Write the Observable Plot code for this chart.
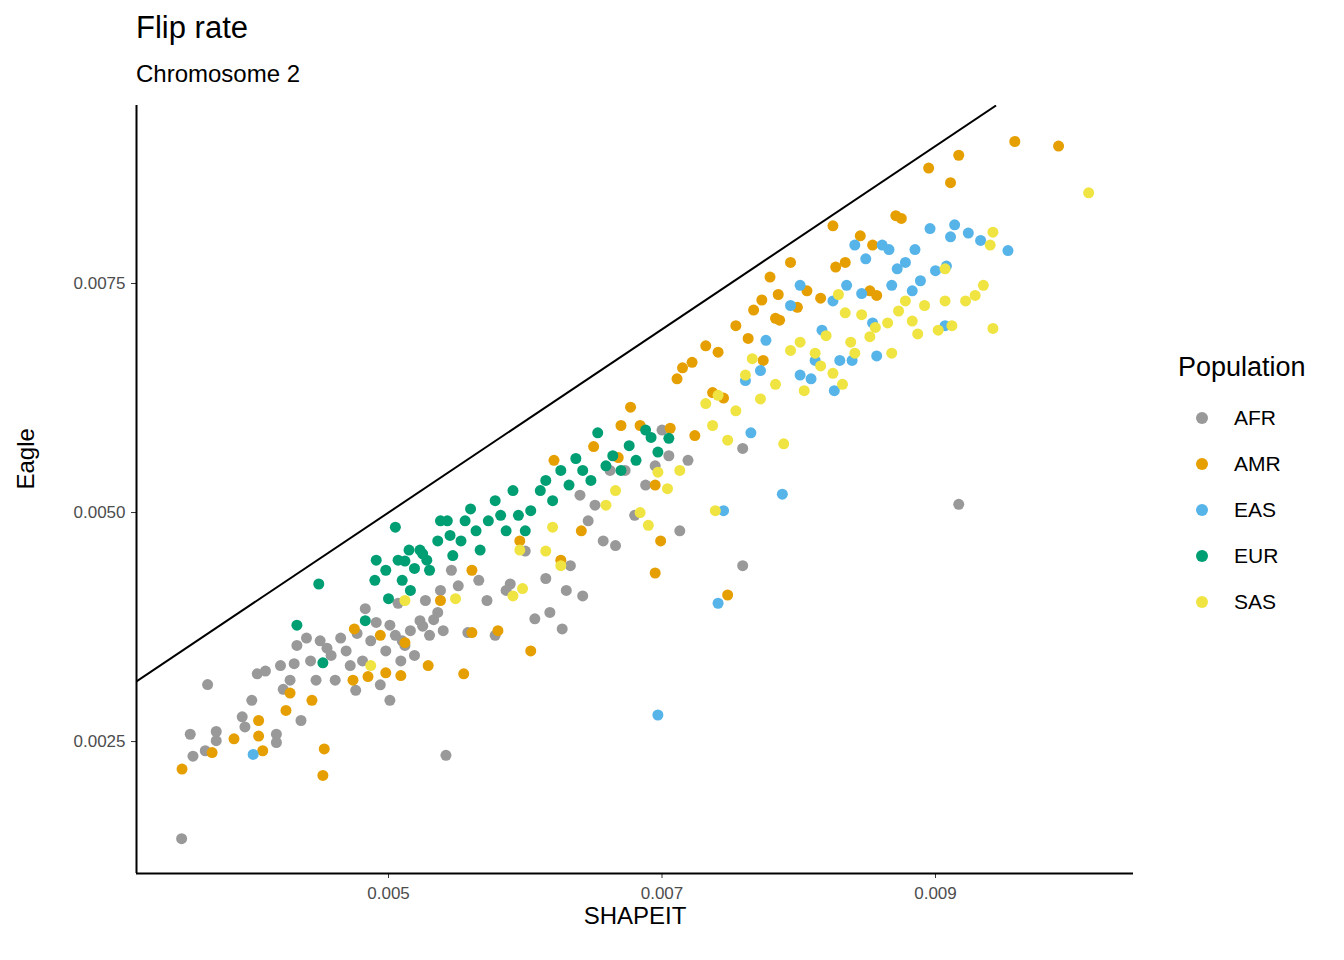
<!DOCTYPE html>
<html><head><meta charset="utf-8">
<script src="https://cdn.jsdelivr.net/npm/d3@7"></script>
<script src="https://cdn.jsdelivr.net/npm/@observablehq/plot@0.6"></script>
<style>
body{margin:0;font-family:"Liberation Sans",Arial,sans-serif;background:#fff}
#wrap{position:relative;width:1344px;height:960px}
.t{position:absolute;color:#000;white-space:nowrap}
.leg{position:absolute;left:1178px;top:352px;font-size:27px}
.row{display:flex;align-items:center;height:46px;font-size:21px}
.dot{width:12px;height:12px;border-radius:50%;margin:0 26px 0 18px}
</style></head><body>
<div id="wrap">
<div class="t" style="left:136px;top:10px;font-size:31px">Flip rate</div>
<div class="t" style="left:136px;top:60px;font-size:24px">Chromosome 2</div>
<div id="chart"></div>
<div class="leg"><div style="margin-bottom:12px">Population</div><div id="rows"></div></div>
</div>
<script>
const populations=["AFR","AMR","EAS","EUR","SAS"];
const colors=["#999999","#E69F00","#56B4E9","#009E73","#F0E442"];
const xDomain=[0.003157,0.010448];
const yDomain=[0.00106,0.009443];
const xTicks=[0.005,0.007,0.009];
const yTicks=[0.0025,0.005,0.0075];
const yTickLabels=["0.0025","0.0050","0.0075"];
const AFR=[[0.003487,0.00144],[0.003677,0.003122],[0.00355,0.00258],[0.00357,0.00234],[0.00366,0.0024],[0.00374,0.00251],[0.00374,0.00261],[0.00393,0.00277],[0.00395,0.00266],[0.00404,0.00324],[0.0041,0.00327],[0.00418,0.00258],[0.00418,0.00249],[0.00421,0.00333],[0.00423,0.00307],[0.00428,0.00317],[0.00433,0.00355],[0.00431,0.00335],[0.0044,0.00363],[0.0045,0.0036],[0.00443,0.00338],[0.00447,0.00317],[0.00458,0.00344],[0.00461,0.00317],[0.00465,0.00363],[0.00469,0.00349],[0.00472,0.00333],[0.00477,0.00368],[0.00481,0.00338],[0.00487,0.0036],[0.00491,0.0038],[0.00494,0.00312],[0.00498,0.00349],[0.00501,0.00377],[0.00501,0.00295],[0.00507,0.00401],[0.0051,0.0036],[0.00516,0.00371],[0.00519,0.00344],[0.00523,0.00382],[0.0053,0.00366],[0.00536,0.00391],[0.0054,0.00371],[0.00542,0.00235],[0.00546,0.00437],[0.00551,0.0042],[0.00558,0.00369],[0.00566,0.00426],[0.00572,0.00404],[0.00578,0.00366],[0.00586,0.00415],[0.00589,0.00422],[0.006,0.00458],[0.00607,0.00384],[0.00618,0.00391],[0.00615,0.00428],[0.00627,0.00373],[0.0063,0.00415],[0.00633,0.00442],[0.00642,0.00409],[0.00646,0.00491],[0.00651,0.00508],[0.00657,0.00469],[0.00666,0.00464],[0.00673,0.00546],[0.0068,0.00497],[0.00688,0.0053],[0.00695,0.00551],[0.007,0.0059],[0.00705,0.00562],[0.00713,0.0048],[0.00719,0.00557],[0.00759,0.00442],[0.00759,0.0057],[0.00917,0.00509],[0.0064,0.00519],[0.00662,0.00546],[0.00538,0.00415],[0.00483,0.00395],[0.004,0.00295],[0.00509,0.00338],[0.00527,0.00404],[0.00476,0.00306],[0.00436,0.00273],[0.00455,0.00352],[0.00505,0.00366],[0.00512,0.00355],[0.00525,0.00376],[0.00533,0.00383]];
const AMR=[[0.00349,0.0022],[0.00371,0.00238],[0.00387,0.00253],[0.00405,0.00256],[0.00408,0.0024],[0.00405,0.00273],[0.00425,0.00284],[0.00428,0.00303],[0.00444,0.00295],[0.00453,0.00242],[0.00452,0.00213],[0.00474,0.00317],[0.00475,0.00373],[0.00485,0.00321],[0.00498,0.00325],[0.00509,0.00322],[0.00512,0.00358],[0.00529,0.00333],[0.00538,0.00404],[0.00555,0.00324],[0.00561,0.00437],[0.00561,0.00369],[0.0058,0.00371],[0.00596,0.00469],[0.00604,0.00349],[0.00621,0.00557],[0.00626,0.00448],[0.00641,0.0048],[0.0065,0.00572],[0.0067,0.00595],[0.00677,0.00615],[0.00684,0.00595],[0.00695,0.00434],[0.00699,0.00469],[0.00706,0.00592],[0.00711,0.00646],[0.00722,0.00664],[0.00724,0.00584],[0.00732,0.00682],[0.00737,0.00631],[0.00741,0.00675],[0.00748,0.0041],[0.00754,0.00704],[0.00763,0.0069],[0.00767,0.00721],[0.00773,0.00732],[0.00779,0.00757],[0.00783,0.00712],[0.00785,0.00738],[0.00794,0.00773],[0.00799,0.00724],[0.00806,0.00742],[0.00816,0.00734],[0.00825,0.00813],[0.00827,0.00768],[0.00834,0.00773],[0.00845,0.00802],[0.00854,0.00792],[0.00857,0.00737],[0.00871,0.00824],[0.00875,0.00821],[0.00895,0.00876],[0.00911,0.0086],[0.00917,0.0089],[0.00958,0.00905],[0.0099,0.009],[0.00774,0.00666],[0.00786,0.0071],[0.00852,0.00742],[0.00695,0.0053],[0.00494,0.00366],[0.00715,0.00658],[0.00745,0.00625],[0.00668,0.0056]];
const EAS=[[0.00401,0.00236],[0.00697,0.00279],[0.00741,0.00401],[0.00745,0.00502],[0.00765,0.00587],[0.00788,0.0052],[0.00761,0.00644],[0.00776,0.00688],[0.00794,0.00726],[0.00801,0.00748],[0.00809,0.00646],[0.00812,0.00666],[0.00817,0.00699],[0.00825,0.00731],[0.0083,0.00666],[0.00835,0.00748],[0.00839,0.00666],[0.00841,0.00792],[0.00846,0.00739],[0.00849,0.00777],[0.00854,0.00707],[0.00857,0.00671],[0.00861,0.00792],[0.00866,0.00787],[0.00868,0.00748],[0.00872,0.00766],[0.00878,0.00773],[0.00883,0.00742],[0.00885,0.00787],[0.00889,0.00753],[0.00896,0.0081],[0.009,0.00764],[0.00908,0.00769],[0.00911,0.00801],[0.00914,0.00814],[0.00924,0.00805],[0.00933,0.00797],[0.00953,0.00786],[0.00907,0.00704],[0.00772,0.00655],[0.00801,0.0065],[0.00826,0.00633]];
const EUR=[[0.00433,0.00377],[0.00449,0.00422],[0.00452,0.00336],[0.00483,0.00382],[0.0049,0.00426],[0.00491,0.00448],[0.00498,0.00437],[0.005,0.00406],[0.00505,0.00484],[0.00507,0.00448],[0.0051,0.00426],[0.00515,0.00459],[0.00519,0.00439],[0.00523,0.00459],[0.00528,0.00448],[0.0053,0.00437],[0.00536,0.00469],[0.00543,0.00491],[0.00547,0.00453],[0.00553,0.00469],[0.00556,0.00491],[0.0056,0.00504],[0.00564,0.0048],[0.00567,0.00459],[0.00573,0.00491],[0.00578,0.00513],[0.00582,0.00497],[0.00586,0.0048],[0.00591,0.00524],[0.00595,0.00497],[0.006,0.0048],[0.00604,0.00502],[0.00611,0.00524],[0.00615,0.00535],[0.0062,0.00513],[0.00626,0.00546],[0.00632,0.0053],[0.00637,0.00559],[0.00642,0.00546],[0.00648,0.00535],[0.00653,0.00587],[0.00659,0.00551],[0.00664,0.00562],[0.0067,0.00546],[0.00676,0.00573],[0.00681,0.00557],[0.00688,0.0059],[0.00692,0.00582],[0.00697,0.00566],[0.00705,0.00581],[0.00516,0.00415],[0.00538,0.00491],[0.00512,0.00447],[0.00525,0.00455],[0.00545,0.00475]];
const SAS=[[0.00487,0.00333],[0.00512,0.00404],[0.00549,0.00406],[0.00591,0.00409],[0.00598,0.00417],[0.00615,0.00458],[0.0062,0.00484],[0.00626,0.00442],[0.00659,0.00508],[0.00666,0.00524],[0.00684,0.005],[0.0069,0.00486],[0.00697,0.00544],[0.00704,0.00526],[0.00713,0.00546],[0.00732,0.00619],[0.00737,0.00595],[0.00739,0.00502],[0.00741,0.00628],[0.00748,0.00579],[0.00754,0.00611],[0.00761,0.0065],[0.00766,0.00668],[0.00772,0.00624],[0.00783,0.0064],[0.00789,0.00575],[0.00794,0.00677],[0.00801,0.00686],[0.00804,0.00633],[0.00812,0.00674],[0.00816,0.0066],[0.0082,0.00693],[0.00825,0.00652],[0.00829,0.00738],[0.00832,0.0064],[0.00834,0.00718],[0.00838,0.00686],[0.00841,0.00674],[0.00846,0.00716],[0.00852,0.00692],[0.00856,0.00702],[0.00865,0.00707],[0.00868,0.00674],[0.00873,0.0072],[0.00878,0.00731],[0.00883,0.00709],[0.00887,0.00695],[0.00892,0.00726],[0.00902,0.00699],[0.00907,0.00731],[0.00912,0.00704],[0.00922,0.00731],[0.00929,0.00737],[0.00935,0.00748],[0.0094,0.00792],[0.00942,0.00806],[0.00942,0.00701],[0.01012,0.00849],[0.00907,0.00766],[0.00596,0.00459]];
const series={AFR,AMR,EAS,EUR,SAS};
const data=populations.flatMap(p=>series[p].map(([x,y])=>({x,y,p})));
const chart=Plot.plot({
  width:1344,height:960,marginTop:105,marginLeft:136,marginRight:211,marginBottom:87,
  style:{fontFamily:"Liberation Sans, Arial, sans-serif",background:"#fff"},
  x:{domain:xDomain,ticks:xTicks,tickFormat:d=>String(d),label:null},
  y:{domain:yDomain,ticks:yTicks,tickFormat:d=>yTickLabels[yTicks.indexOf(d)],label:null},
  color:{domain:populations,range:colors},
  marks:[
    Plot.link([0],{x1:()=>xDomain[0],y1:()=>xDomain[0],x2:()=>yDomain[1],y2:()=>yDomain[1],stroke:"#000",strokeWidth:2,clip:true}),
    Plot.dot(data,{x:"x",y:"y",fill:"p",r:5.5,stroke:null}),
    Plot.axisX({ticks:xTicks,tickFormat:d=>String(d),tickSize:5,fontSize:17,color:"#4d4d4d",stroke:"#333",label:null,tickPadding:8}),
    Plot.axisY({ticks:yTicks,tickFormat:d=>yTickLabels[yTicks.indexOf(d)],tickSize:5,fontSize:17,color:"#4d4d4d",stroke:"#333",label:null,tickPadding:6}),
    Plot.ruleX([xDomain[0]],{stroke:"#000",strokeWidth:2}),
    Plot.ruleY([yDomain[0]],{stroke:"#000",strokeWidth:2}),
    Plot.text(["SHAPEIT"],{frameAnchor:"bottom",dy:50,fontSize:24,fill:"#000",text:d=>d}),
    Plot.text(["Eagle"],{frameAnchor:"left",dx:-110,rotate:-90,fontSize:24,fill:"#000",text:d=>d})
  ]
});
document.getElementById("chart").appendChild(chart);
const rows=document.getElementById("rows");
populations.forEach((p,i)=>{const r=document.createElement("div");r.className="row";r.innerHTML=`<span class="dot" style="background:${colors[i]}"></span>${p}`;rows.appendChild(r);});
</script></body></html>
